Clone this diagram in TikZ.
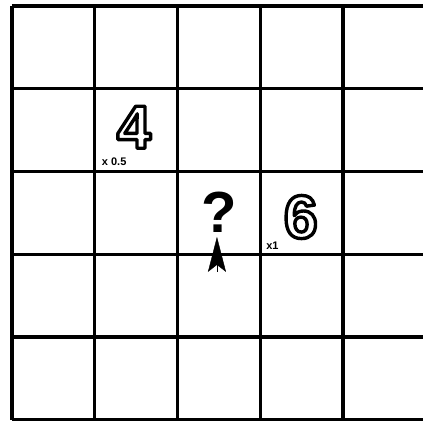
\documentclass[tikz,border=0pt]{standalone}
\usepackage{fontspec}
\setmainfont{Liberation Sans}
\usetikzlibrary{arrows.meta}
\newcommand{\hollow}[1]{{\color{white}\special{pdf:literal direct q 2 Tr 3.4 w 1 j 0 G}#1\special{pdf:literal direct Q}}}
\tikzset{
  bignum/.style={inner sep=0pt, font=\fontsize{61}{63}\selectfont\bfseries},
  factor/.style={inner sep=0pt, font=\fontsize{11}{12}\selectfont\bfseries},
}
\begin{document}
\begin{tikzpicture}[x=82.75pt,y=-82.75pt]
\useasboundingbox (-0.145,-0.0725) rectangle (4.967,5.015);
\clip (-0.145,-0.0725) rectangle (4.967,5.015);
\draw[line width=3.2pt,step=82.75pt] (0,0) grid (5,5);

\node[bignum] (four) at (1.474,1.465) {\hollow{4}};
\node[factor] (fourx) at (1.235,1.880) {x 0.5};

\node[bignum] (six) at (3.49,2.55) {\hollow{6}};
\node[factor] (sixx) at (3.148,2.90) {x1};

\node[bignum,font=\fontsize{58}{60}\selectfont\bfseries] (quest) at (2.50,2.49) {?};
\coordinate (tail) at (2.477,3.21);
\draw[line width=0.4pt,-{Stealth[length=35pt,width=18pt,inset=7pt]}] (tail) -- (2.477,2.79);
\end{tikzpicture}
\end{document}
